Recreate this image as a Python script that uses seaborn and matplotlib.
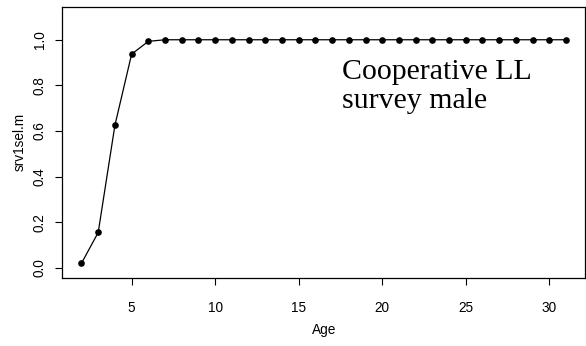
import matplotlib
matplotlib.use("Agg")
import matplotlib.pyplot as plt
import seaborn as sns
import pandas as pd

# selectivity at age
ages = list(range(2, 32))
sel = [0.02, 0.155, 0.625, 0.937, 0.993] + [1.0] * 25

df = pd.DataFrame({"Age": ages, "srv1sel.m": sel})

sns.set_style("ticks")
plt.rcParams["font.family"] = ["Liberation Sans", "DejaVu Sans"]
plt.rcParams["text.color"] = "black"
plt.rcParams["axes.labelcolor"] = "black"

fig = plt.figure(figsize=(5.86, 3.46), dpi=100)
ax = fig.add_axes([0.106, 0.197, 0.893, 0.783])

sns.lineplot(data=df, x="Age", y="srv1sel.m", ax=ax, color="black",
             linewidth=0.9, marker="o", markersize=4.8, markeredgewidth=0)

ax.set_xlim(0.84, 32.16)
ax.set_ylim(-0.044, 1.144)
ax.set_xticks([5, 10, 15, 20, 25, 30])
ax.set_yticks([0.0, 0.2, 0.4, 0.6, 0.8, 1.0])
ax.set_yticklabels(["0.0", "0.2", "0.4", "0.6", "0.8", "1.0"],
                   rotation=90, va="center")

for s in ax.spines.values():
    s.set_visible(True)
    s.set_linewidth(0.9)
    s.set_color("black")

ax.tick_params(axis="both", direction="out", length=5, width=0.8,
               labelsize=9.8, colors="black")
ax.tick_params(axis="x", pad=11.5)
ax.tick_params(axis="y", pad=6)

ax.set_xlabel("Age", fontsize=9.8, labelpad=6)
ax.set_ylabel("srv1sel.m", fontsize=9.8, labelpad=4.5)

ax.text(17.6, 0.915, "Cooperative LL\nsurvey male", family="Liberation Serif",
        fontsize=21.5, ha="left", va="top", linespacing=1.12, color="black")

fig.savefig("out.png", dpi=100, facecolor="white")
